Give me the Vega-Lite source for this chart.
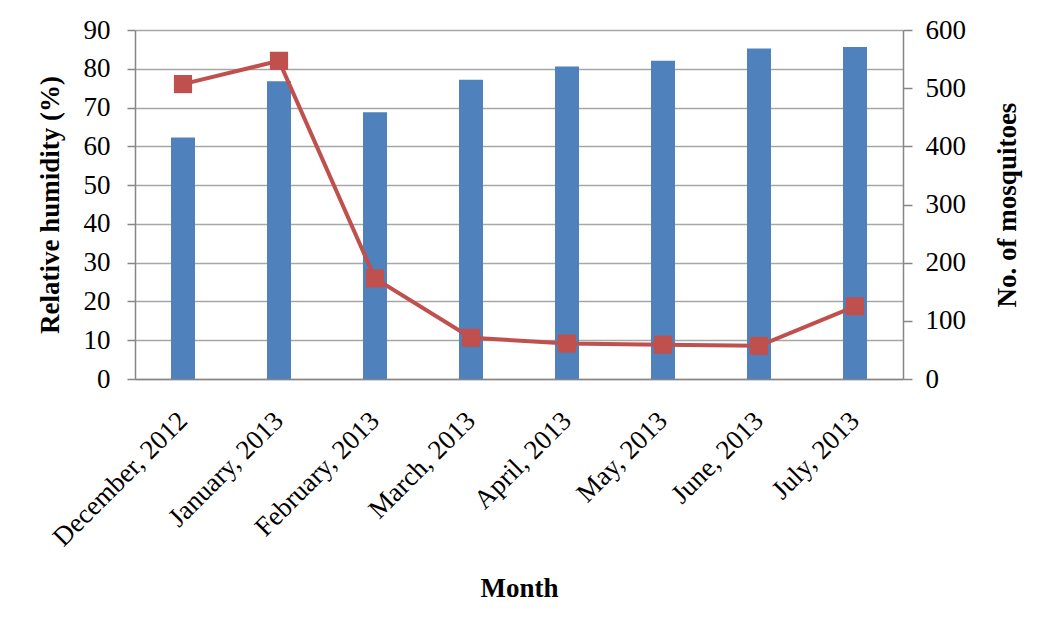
{
  "$schema": "https://vega.github.io/schema/vega-lite/v6.json",
  "width": 768,
  "height": 349,
  "autosize": {"type": "none"},
  "padding": {"left": 135, "top": 30, "right": 147, "bottom": 257},
  "background": "white",
  "data": {
    "values": [
      {"month": "December, 2012", "humidity": 62.3, "mosquitoes": 507},
      {"month": "January, 2013", "humidity": 76.8, "mosquitoes": 547},
      {"month": "February, 2013", "humidity": 68.8, "mosquitoes": 173},
      {"month": "March, 2013", "humidity": 77.2, "mosquitoes": 71},
      {"month": "April, 2013", "humidity": 80.6, "mosquitoes": 61},
      {"month": "May, 2013", "humidity": 82.1, "mosquitoes": 59},
      {"month": "June, 2013", "humidity": 85.2, "mosquitoes": 57},
      {"month": "July, 2013", "humidity": 85.6, "mosquitoes": 125}
    ]
  },
  "config": {
    "view": {"stroke": null},
    "font": "Liberation Serif",
    "axis": {
      "labelFont": "Liberation Serif",
      "titleFont": "Liberation Serif",
      "labelColor": "#000000",
      "titleColor": "#000000",
      "labelFontSize": 27,
      "titleFontSize": 27,
      "titleFontWeight": "bold",
      "domainColor": "#868686",
      "tickColor": "#868686",
      "gridColor": "#a6a6a6",
      "domainWidth": 1.5,
      "tickWidth": 1.5,
      "gridWidth": 1.5
    }
  },
  "layer": [
    {
      "mark": {"type": "bar", "size": 24, "color": "#4F81BD"},
      "encoding": {
        "x": {
          "field": "month",
          "type": "nominal",
          "sort": null,
          "scale": {"paddingInner": 0, "paddingOuter": 0},
          "axis": {
            "title": "Month",
            "labelAngle": -45,
            "labelAlign": "right",
            "labelBaseline": "top",
            "ticks": false,
            "labelPadding": 28,
            "labelOffset": -9,
            "titlePadding": 25,
            "grid": false
          }
        },
        "y": {
          "field": "humidity",
          "type": "quantitative",
          "scale": {"domain": [0, 90], "nice": false},
          "axis": {
            "title": "Relative humidity (%)",
            "values": [0, 10, 20, 30, 40, 50, 60, 70, 80, 90],
            "grid": true,
            "tickSize": 8,
            "labelPadding": 17,
            "titlePadding": 19
          }
        }
      }
    },
    {
      "encoding": {
        "x": {"field": "month", "type": "nominal", "sort": null},
        "y": {
          "field": "mosquitoes",
          "type": "quantitative",
          "scale": {"domain": [0, 600], "nice": false},
          "axis": {
            "orient": "right",
            "title": "No. of mosquitoes",
            "titleAngle": -90,
            "values": [0, 100, 200, 300, 400, 500, 600],
            "grid": false,
            "tickSize": 9,
            "labelPadding": 13,
            "titlePadding": 56
          }
        }
      },
      "layer": [
        {"mark": {"type": "line", "color": "#C0504D", "strokeWidth": 4}},
        {"mark": {"type": "point", "shape": "square", "size": 330, "filled": true, "opacity": 1, "color": "#C0504D"}}
      ]
    }
  ],
  "resolve": {"scale": {"y": "independent"}}
}
